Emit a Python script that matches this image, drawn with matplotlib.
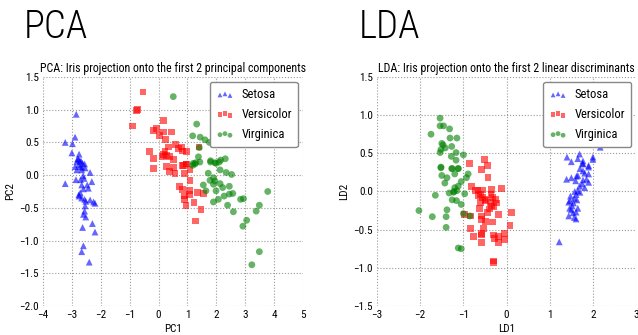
import matplotlib
matplotlib.use("Agg")
import matplotlib.pyplot as plt

# ---------------- data ----------------
categories = ["Setosa", "Versicolor", "Virginica"]

pca_setosa_x = [-2.85, -3.23, -2.98, -2.89, -3.0, -2.75, -2.77, -2.83, -2.68, -2.63, -2.56, -2.77, -2.89,
                -2.71, -2.54, -2.83, -2.66, -2.37, -2.61, -2.86, -3.23, -2.70, -2.31, -2.66, -2.47, -2.43,
                -2.60, -2.71, -2.75, -2.66, -2.56, -2.52, -2.37, -2.25, -2.20, -2.54, -2.56, -2.60, -2.52,
                -2.29, -2.63, -2.20, -2.60, -2.66, -2.40, -2.72, -2.65, -2.76, -2.58, -2.80]
pca_setosa_y = [0.93, 0.50, 0.48, 0.58, 0.34, 0.32, 0.24, 0.21, 0.21, 0.18, 0.17, 0.16, 0.13,
                0.13, 0.11, 0.08, 0.08, 0.04, -0.01, -0.07, -0.13, -0.07, -0.10, -0.15, -0.15, -0.20,
                -0.21, -0.27, -0.32, -0.35, -0.37, -0.40, -0.38, -0.41, -0.43, -0.47, -0.55, -0.60, -0.64,
                -0.74, -0.80, -0.87, -1.08, -1.17, -1.33, 0.22, 0.12, -0.30, -0.05, 0.25]

pca_versicolor_x = [-0.54, -0.76, -0.73, -0.91, 0.16, -0.07, -0.18, 0.02, 0.25, 0.16, 0.45, 0.60, 0.68,
                    0.83, 0.80, 0.34, -0.30, -0.18, 0.22, 0.16, 0.13, 0.28, 0.39, 0.51, 0.97, 1.40, 0.86,
                    0.97, 0.28, -0.18, 0.51, 0.37, 0.83, 0.95, 1.09, 0.57, 0.91, 1.09, 0.72, 0.83, 1.06,
                    1.06, 1.35, 1.55, 0.91, 0.91, 1.23, 0.95, 1.47, 1.29]
pca_versicolor_y = [1.27, 0.99, 1.00, 0.75, 0.83, 0.71, 0.68, 0.60, 0.54, 0.66, 0.66, 0.47, 0.41,
                    0.37, 0.43, 0.43, 0.36, 0.26, 0.36, 0.32, 0.29, 0.30, 0.28, 0.24, 0.36, 0.43, 0.15,
                    0.17, 0.13, 0.10, 0.12, 0.05, 0.15, 0.17, 0.09, 0.03, 0.03, -0.08, -0.17, -0.22, -0.24,
                    -0.29, -0.26, -0.28, -0.32, -0.37, -0.42, -0.47, -0.52, -0.70]

pca_virginica_x = [0.51, 1.32, 1.18, 1.44, 1.61, 1.76, 1.80, 1.99, 2.15, 2.31, 1.20, 1.29, 1.38, 1.41,
                   1.26, 1.43, 1.18, 1.80, 2.10, 1.95, 2.34, 2.53, 1.90, 1.78, 1.95, 1.90, 1.64, 2.13,
                   2.22, 2.45, 1.99, 2.27, 2.45, 2.57, 2.84, 2.94, 2.07, 1.90, 2.39, 2.59, 3.49, 3.38,
                   3.78, 3.05, 2.92, 3.49, 3.23, 1.55, 1.72, 2.13]
pca_virginica_y = [1.20, 0.78, 0.60, 0.58, 0.54, 0.50, 0.22, 0.18, 0.23, 0.25, 0.18, 0.19, 0.28, 0.42,
                   0.17, 0.20, 0.15, 0.20, 0.20, 0.19, 0.04, 0.01, -0.04, -0.08, -0.09, -0.14, -0.24, -0.13,
                   -0.19, -0.17, -0.24, -0.32, -0.29, -0.28, -0.37, -0.36, -0.37, -0.41, -0.46, -0.56, -0.46, -0.55,
                   -0.25, -0.69, -0.78, -1.17, -1.37, -0.15, 0.03, 0.08]

lda_setosa_x = [2.02, 1.88, 2.10, 2.17, 1.40, 1.50, 1.69, 1.65, 1.77, 1.77, 1.90, 2.00, 1.39, 1.50, 1.65,
                1.77, 1.81, 1.90, 1.76, 1.90, 1.60, 1.77, 1.85, 1.69, 1.65, 1.61, 1.57, 1.63, 1.47, 1.44,
                1.52, 1.50, 1.61, 1.65, 1.44, 1.57, 1.61, 1.22, 1.54, 1.48, 1.70, 1.90, 1.81, 2.00, 1.46,
                1.70, 1.58, 1.75, 1.55, 1.62]
lda_setosa_y = [0.98, 0.66, 0.65, 0.58, 0.45, 0.39, 0.49, 0.43, 0.40, 0.36, 0.32, 0.45, 0.16, 0.18, 0.21,
                0.27, 0.24, 0.34, 0.37, 0.23, 0.14, 0.15, 0.16, 0.07, 0.01, -0.04, -0.09, -0.11, -0.12, -0.14,
                -0.19, -0.24, -0.27, -0.22, -0.32, -0.34, -0.36, -0.66, -0.28, -0.06, -0.01, 0.12, 0.05, 0.42, -0.22,
                0.30, 0.00, 0.10, -0.15, 0.20]

lda_versicolor_x = [-0.86, -0.51, -0.59, -0.43, -0.82, -0.72, -0.66, -0.55, -0.35, -0.12, -0.60, -0.55,
                    -0.36, -0.33, -0.60, -0.48, -0.38, -0.24, -0.35, -0.29, -0.40, -0.62, -0.18, 0.11,
                    -0.98, -0.84, -0.59, -0.58, -0.48, -0.32, -0.84, -0.54, 0.08, -0.77, -0.58, -0.59,
                    -0.30, -0.28, -0.18, -0.04, -0.04, -0.59, -0.18, -0.30, -0.30, -0.45, -0.50, -0.45,
                    -0.65, -0.25]
lda_versicolor_y = [0.37, 0.42, 0.29, 0.18, 0.07, 0.01, 0.02, 0.02, 0.03, 0.04, -0.04, -0.08,
                    -0.04, -0.08, -0.14, -0.12, -0.14, -0.15, -0.19, -0.20, -0.23, -0.22, -0.30, -0.28,
                    -0.30, -0.32, -0.32, -0.37, -0.39, -0.40, -0.49, -0.49, -0.45, -0.59, -0.55, -0.57,
                    -0.57, -0.62, -0.59, -0.55, -0.63, -0.67, -0.67, -0.91, -0.93, 0.34, -0.10, -0.28,
                    -0.05, -0.10]

lda_virginica_x = [-1.54, -1.54, -1.46, -1.75, -1.32, -1.31, -1.15, -1.50, -1.47, -1.42, -1.52, -1.54,
                   -1.27, -1.28, -1.17, -1.00, -1.17, -1.52, -1.27, -1.12, -1.50, -1.38, -1.43, -1.20,
                   -0.89, -0.93, -1.05, -1.12, -1.33, -1.22, -1.15, -1.23, -0.97, -1.65, -1.26, -1.16,
                   -1.05, -2.03, -1.38, -1.72, -1.40, -1.00, -0.85, -1.40, -1.12, -1.05, -1.20, -1.26,
                   -1.52, -1.12]
lda_virginica_y = [0.96, 0.86, 0.86, 0.75, 0.82, 0.70, 0.70, 0.63, 0.61, 0.57, 0.55, 0.51,
                   0.59, 0.46, 0.51, 0.48, 0.41, 0.31, 0.30, 0.30, 0.21, 0.18, 0.11, 0.23,
                   0.23, 0.18, 0.13, 0.07, -0.02, 0.00, 0.01, -0.01, -0.03, -0.05, -0.11, -0.12,
                   -0.17, -0.25, -0.24, -0.33, -0.33, -0.29, -0.32, -0.47, -0.74, -0.75, 0.05, 0.30,
                   0.32, 0.30]

pca_xticks = [-4, -3, -2, -1, 0, 1, 2, 3, 4, 5]
pca_yticks = [-2.0, -1.5, -1.0, -0.5, 0.0, 0.5, 1.0, 1.5]
lda_xticks = [-3, -2, -1, 0, 1, 2, 3]
lda_yticks = [-1.5, -1.0, -0.5, 0.0, 0.5, 1.0, 1.5]

# ---------------- style ----------------
narrow = ["Roboto Condensed", "DejaVu Sans"]
plt.rcParams["font.family"] = narrow
colors = ["blue", "red", "green"]
markers = ["^", "s", "o"]

fig = plt.figure(figsize=(6.38, 3.35), dpi=100)
ax1 = fig.add_axes([0.0674, 0.0866, 0.4075, 0.6836])
ax2 = fig.add_axes([0.591, 0.0866, 0.406, 0.6836])

pca_sets = [(pca_setosa_x, pca_setosa_y), (pca_versicolor_x, pca_versicolor_y),
            (pca_virginica_x, pca_virginica_y)]
lda_sets = [(lda_setosa_x, lda_setosa_y), (lda_versicolor_x, lda_versicolor_y),
            (lda_virginica_x, lda_virginica_y)]


def style(ax, title, xlabel, ylabel, xt, yt):
    ax.set_title(title, fontsize=8.6, pad=3.5)
    ax.set_xlabel(xlabel, fontsize=8, labelpad=3)
    ax.set_ylabel(ylabel, fontsize=8, labelpad=3)
    ax.set_xticks(xt)
    ax.set_yticks(yt)
    ax.set_xticklabels([("\u2212" if v < 0 else "") + str(abs(v)) for v in xt])
    ax.set_yticklabels([("\u2212" if v < 0 else "") + "%.1f" % abs(v) for v in yt])
    ax.set_xlim(xt[0], xt[-1])
    ax.set_ylim(yt[0], yt[-1])
    ax.tick_params(length=0, labelsize=8, pad=3)
    for s in ax.spines.values():
        s.set_visible(False)
    ax.grid(True, linestyle=":", color="#999999", linewidth=0.8)
    ax.set_axisbelow(True)
    leg = ax.legend(loc="upper right", scatterpoints=3, fontsize=9, fancybox=True,
                    framealpha=1, edgecolor="#888888", borderpad=0.5, labelspacing=0.55,
                    handletextpad=0.6, handlelength=1.4, markerscale=0.7, borderaxespad=0.4)
    leg.get_frame().set_linewidth(1.0)


for (x, y), c, m, lab in zip(pca_sets, colors, markers, categories):
    ax1.scatter(x, y, c=c, marker=m, s=24, alpha=0.6, edgecolors="none", label=lab)
for (x, y), c, m, lab in zip(lda_sets, colors, markers, categories):
    ax2.scatter(x, y, c=c, marker=m, s=24, alpha=0.6, edgecolors="none", label=lab)

style(ax1, "PCA: Iris projection onto the first 2 principal components", "PC1", "PC2",
      pca_xticks, pca_yticks)
style(ax2, "LDA: Iris projection onto the first 2 linear discriminants", "LD1", "LD2",
      lda_xticks, lda_yticks)

fig.text(0.038, 0.975, "PCA", fontsize=28, va="top", ha="left", family=narrow, weight=300)
fig.text(0.562, 0.975, "LDA", fontsize=28, va="top", ha="left", family=narrow, weight=300)

fig.savefig("out.png", dpi=100)
